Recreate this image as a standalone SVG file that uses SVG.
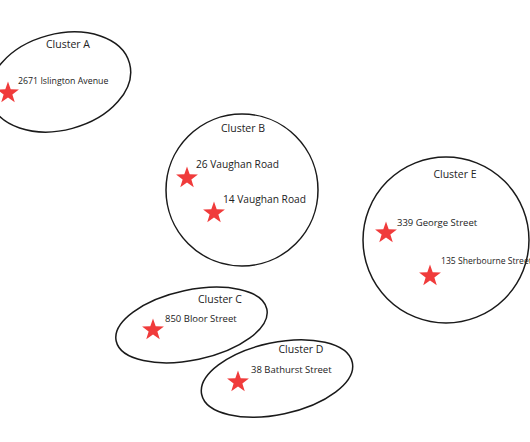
<svg xmlns="http://www.w3.org/2000/svg" xmlns:xlink="http://www.w3.org/1999/xlink" width="530" height="442" viewBox="0 0 530 442">
<style>
.cl{fill:none;stroke:#1a1a1a;stroke-width:1.5}
.t{font-family:"Open Sans","Liberation Sans",sans-serif;fill:#222}
.h{font-size:10.5px;text-anchor:middle}
.a{font-size:9.5px}
.star{fill:#f03b3b}
</style>
<defs>
<path id="star" class="star" d="M0,-11.5 L2.7,-3.72 L10.94,-3.55 L4.37,1.42 L6.76,9.3 L0,4.6 L-6.76,9.3 L-4.37,1.42 L-10.94,-3.55 L-2.7,-3.72 Z"/>
</defs>
<rect width="530" height="442" fill="#fff"/>
<g id="clusterA">
<ellipse class="cl" cx="60" cy="82" rx="72" ry="48" transform="rotate(-15 60 82)"/>
<text class="t h" x="68" y="48">Cluster A</text>
<use xlink:href="#star" x="8" y="93"/>
<text class="t a" x="18" y="84" style="font-size:8.8px">2671 Islington Avenue</text>
</g>
<g id="clusterB">
<circle class="cl" cx="242" cy="190" r="76"/>
<text class="t h" x="243" y="132">Cluster B</text>
<use xlink:href="#star" x="187" y="178"/>
<text class="t a" x="196" y="168" style="font-size:10.2px">26 Vaughan Road</text>
<use xlink:href="#star" x="214" y="213"/>
<text class="t a" x="223" y="203" style="font-size:10.2px">14 Vaughan Road</text>
</g>
<g id="clusterE">
<circle class="cl" cx="446" cy="240" r="83"/>
<text class="t h" x="455" y="178">Cluster E</text>
<use xlink:href="#star" x="386" y="233"/>
<text class="t a" x="397" y="226">339 George Street</text>
<use xlink:href="#star" x="430" y="276"/>
<text class="t a" x="441" y="264" style="font-size:8.6px">135 Sherbourne Street</text>
</g>
<g id="clusterC">
<ellipse class="cl" cx="191.5" cy="325" rx="77" ry="35" transform="rotate(-12 191.5 325)"/>
<text class="t h" x="220" y="303">Cluster C</text>
<use xlink:href="#star" x="153" y="330"/>
<text class="t a" x="165" y="322">850 Bloor Street</text>
</g>
<g id="clusterD">
<ellipse class="cl" cx="277" cy="378.5" rx="77" ry="36" transform="rotate(-12 277 378.5)"/>
<text class="t h" x="301" y="353">Cluster D</text>
<use xlink:href="#star" x="238" y="382"/>
<text class="t a" x="251" y="373">38 Bathurst Street</text>
</g>
<g id="connectors"></g>
</svg>
